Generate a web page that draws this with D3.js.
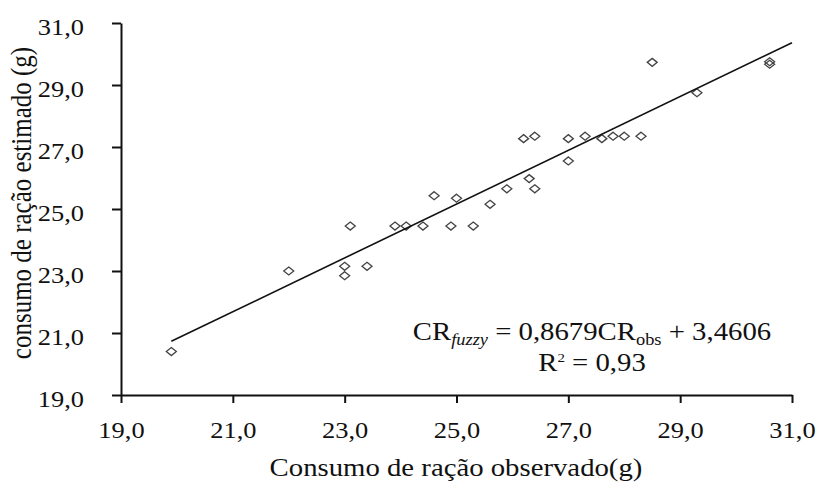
<!DOCTYPE html>
<html>
<head>
<meta charset="utf-8">
<script src="https://cdn.jsdelivr.net/npm/d3@7"></script>
<style>
  body { margin: 0; background: #fff; }
  text { font-family: "Liberation Serif", "Times New Roman", serif; fill: #111; }
</style>
</head>
<body>
<svg id="chart"></svg>
<script>
const width = 820;
const height = 483;

const consumoObs = [19.9, 22.0, 23.0, 23.0, 23.4, 23.1, 23.9, 24.1, 24.4, 24.6, 24.9, 25.0, 25.3, 25.6, 25.9,
    26.2, 26.4, 26.3, 26.4, 27.0, 27.0, 27.3, 27.6, 27.8, 28.0, 28.3, 28.5, 29.3, 30.6, 30.6];
const consumoEst = [20.4, 23.0, 23.15, 22.85, 23.15, 24.45, 24.45, 24.45, 24.45, 25.43, 24.45, 25.35, 24.45, 25.15, 25.65,
    27.27, 27.35, 25.98, 25.65, 27.27, 26.55, 27.35, 27.27, 27.35, 27.35, 27.35, 29.73, 28.75, 29.75, 29.67];
const ticks = [19, 21, 23, 25, 27, 29, 31];

// reta de regressão
const slope = 0.8679;
const intercept = 3.4606;
const lineRange = [19.9, 31];

const stretch = 1.15; // o original é esticado na horizontal

const svg = d3.select("#chart")
    .attr("width", width)
    .attr("height", height);

svg.append("rect").attr("width", width).attr("height", height).attr("fill", "#fff");

const x = d3.scaleLinear().domain([19, 31]).range([121, 792]);
const y = d3.scaleLinear().domain([19, 31]).range([395, 23]);

const fmt = d => d.toFixed(1).replace(".", ",");

// eixo x
const gx = svg.append("g")
    .attr("transform", `translate(0,${y(19)})`)
    .call(d3.axisBottom(x).tickValues(ticks).tickSize(8).tickSizeOuter(0).tickFormat(fmt));
gx.select(".domain").attr("stroke", "#111").attr("stroke-width", 2);
gx.selectAll(".tick line").attr("stroke", "#111").attr("stroke-width", 2);
gx.selectAll(".tick text")
    .attr("y", 43).attr("dy", 0)
    .attr("transform", `scale(${stretch},1)`)
    .style("font-size", "23px");

// eixo y
const gy = svg.append("g")
    .attr("transform", `translate(${x(19)},0)`)
    .call(d3.axisLeft(y).tickValues(ticks).tickSize(9).tickSizeOuter(0).tickFormat(fmt));
gy.select(".domain").attr("stroke", "#111").attr("stroke-width", 2);
gy.selectAll(".tick line").attr("stroke", "#111").attr("stroke-width", 2);
gy.selectAll(".tick text")
    .attr("x", -37 / stretch).attr("y", 11).attr("dy", 0)
    .attr("text-anchor", "end")
    .attr("transform", `scale(${stretch},1)`)
    .style("font-size", "23px");

// pontos (losangos vazados)
const diamond = "M0,-4L5,0L0,4L-5,0Z";
svg.selectAll(".pt")
    .data(consumoObs)
    .enter()
    .append("path")
    .attr("class", "pt")
    .attr("d", diamond)
    .attr("transform", (d, i) => `translate(${x(d)},${y(consumoEst[i])})`)
    .attr("fill", "none")
    .attr("stroke", "#444")
    .attr("stroke-width", 1.3);

// linha de tendência
svg.append("line")
    .attr("x1", x(lineRange[0]))
    .attr("y1", y(slope * lineRange[0] + intercept))
    .attr("x2", x(lineRange[1]))
    .attr("y2", y(slope * lineRange[1] + intercept))
    .attr("stroke", "#111")
    .attr("stroke-width", 1.6);

// equação
const eq = svg.append("text")
    .attr("text-anchor", "middle")
    .attr("transform", `translate(592,340) scale(${stretch},1)`)
    .style("font-size", "25px");
eq.append("tspan").text("CR");
eq.append("tspan").text("fuzzy").attr("dy", 5).style("font-size", "16px").style("font-style", "italic");
eq.append("tspan").text(" = 0,8679CR").attr("dy", -5);
eq.append("tspan").text("obs").attr("dy", 5).style("font-size", "16px");
eq.append("tspan").text(" + 3,4606").attr("dy", -5);

const r2 = svg.append("text")
    .attr("text-anchor", "middle")
    .attr("transform", `translate(592,371) scale(${stretch},1)`)
    .style("font-size", "25px");
r2.append("tspan").text("R");
r2.append("tspan").text("2").attr("dy", -9).style("font-size", "13px");
r2.append("tspan").text(" = 0,93").attr("dy", 9);

// títulos dos eixos
svg.append("text")
    .attr("text-anchor", "middle")
    .attr("transform", `translate(456,476) scale(${stretch},1)`)
    .style("font-size", "25px")
    .text("Consumo de ração observado(g)");

svg.append("text")
    .attr("text-anchor", "middle")
    .attr("transform", `translate(31,203) scale(${stretch},1) rotate(-90)`)
    .style("font-size", "25px")
    .text("consumo de ração estimado (g)");
</script>
</body>
</html>
